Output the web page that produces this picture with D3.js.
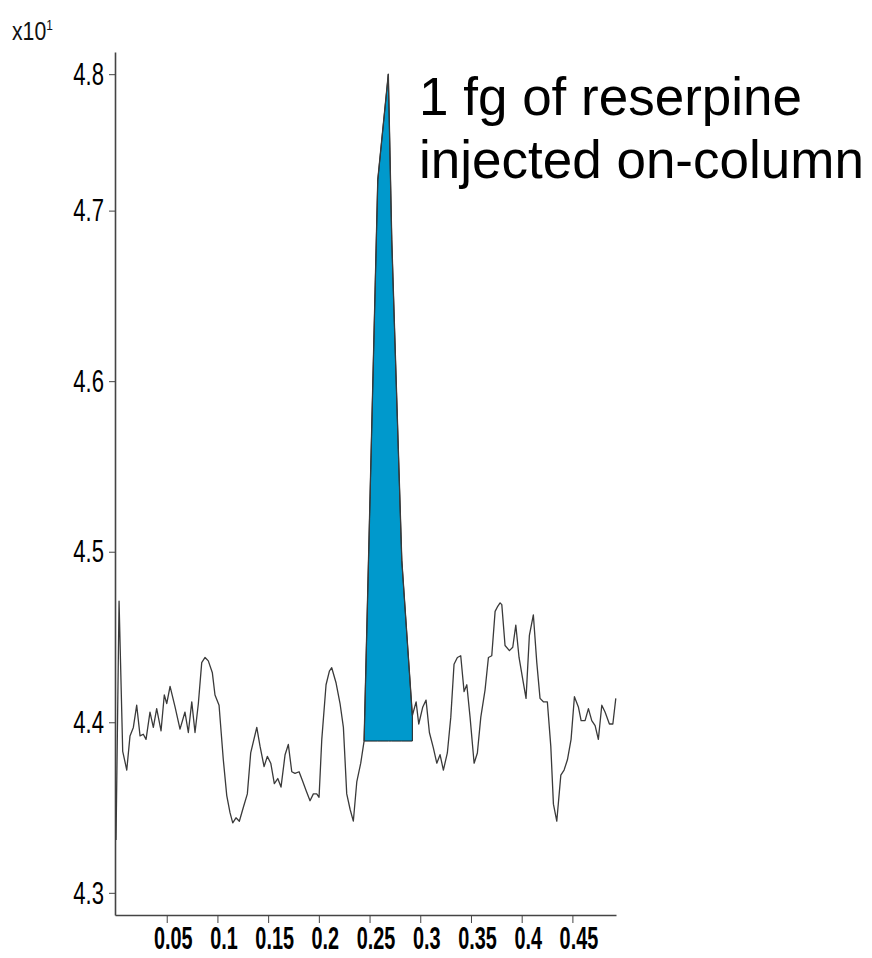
<!DOCTYPE html>
<html>
<head>
<meta charset="utf-8">
<script src="https://cdn.jsdelivr.net/npm/d3@7"></script>
<style>
  body { margin: 0; background: #fff; }
  svg { display: block; }
</style>
</head>
<body>
<div id="chart"></div>
<script>
const width = 872;
const height = 958;

// Retention time (min)
const times = [0.000,0.003,0.0066,0.0106,0.0138,0.0171,0.0204,0.0237,0.0269,0.0296,
  0.0335,0.0368,0.0401,0.0444,0.0476,0.0500,0.0533,0.0582,0.0631,0.0680,
  0.0713,0.0747,0.0779,0.0812,0.0845,0.0878,0.0910,0.0950,0.0976,0.1016,
  0.1058,0.1092,0.1124,0.1151,0.1183,0.1216,0.1255,0.1295,0.1328,0.1388,
  0.1420,0.1460,0.1492,0.1526,0.1561,0.1595,0.1627,0.1667,0.1699,0.1733,
  0.1765,0.1805,0.1837,0.1874,0.1913,0.1946,0.1979,0.2002,0.2029,0.2071,
  0.2104,0.2127,0.2170,0.2209,0.2242,0.2275,0.2308,0.2340,0.2374,0.2413,
  0.2446,0.2581,0.2685,0.2719,0.2818,0.2922,0.2959,0.2985,0.3025,0.3057,
  0.3090,0.3129,0.3163,0.3195,0.3228,0.3267,0.3301,0.3333,0.3366,0.3399,
  0.3432,0.3459,0.3491,0.3531,0.3563,0.3597,0.3639,0.3672,0.3705,0.3738,
  0.3764,0.3787,0.3804,0.3836,0.3879,0.3912,0.3942,0.3974,0.4011,0.4043,
  0.4076,0.4115,0.4149,0.4181,0.4214,0.4253,0.4287,0.4313,0.4346,0.4386,
  0.4418,0.4451,0.4487,0.4520,0.4559,0.4586,0.4625,0.4658,0.4691,0.4724,
  0.4756,0.4790,0.4822,0.4865,0.4899,0.4928];

// Signal intensity (x10^1)
const intensity = [4.331,4.471,4.383,4.372,4.392,4.397,4.410,4.392,4.393,4.390,
  4.406,4.397,4.408,4.395,4.416,4.411,4.421,4.409,4.396,4.406,
  4.394,4.412,4.394,4.411,4.435,4.438,4.436,4.429,4.416,4.410,
  4.378,4.357,4.347,4.341,4.344,4.342,4.350,4.358,4.382,4.397,
  4.386,4.374,4.380,4.376,4.364,4.367,4.362,4.381,4.387,4.371,
  4.370,4.371,4.366,4.360,4.354,4.358,4.358,4.356,4.390,4.422,
  4.430,4.432,4.423,4.411,4.397,4.358,4.349,4.342,4.365,4.376,
  4.389,4.718,4.780,4.683,4.495,4.404,4.412,4.399,4.409,4.413,
  4.394,4.385,4.376,4.381,4.372,4.382,4.403,4.434,4.438,4.439,
  4.418,4.422,4.403,4.376,4.382,4.403,4.419,4.438,4.439,4.465,
  4.468,4.470,4.469,4.445,4.442,4.444,4.457,4.438,4.425,4.414,
  4.451,4.463,4.435,4.414,4.412,4.412,4.386,4.352,4.342,4.369,
  4.372,4.378,4.390,4.415,4.409,4.401,4.401,4.408,4.401,4.398,
  4.390,4.410,4.406,4.399,4.399,4.414];

// Integrated peak window and its baseline
const peakWindow = [0.2446, 0.2922];
const peakBaseline = 4.389;

// Axis ticks
const xTickValues = [0.05, 0.1, 0.15, 0.2, 0.25, 0.3, 0.35, 0.4, 0.45];
const xTickLabels = ["0.05", "0.1", "0.15", "0.2", "0.25", "0.3", "0.35", "0.4", "0.45"];
const yTickValues = [4.3, 4.4, 4.5, 4.6, 4.7, 4.78];
const yTickLabels = ["4.3", "4.4", "4.5", "4.6", "4.7", "4.8"];

const annotationLines = ["1 fg of reserpine", "injected on-column"];

const data = d3.zip(times, intensity).map(([t, v]) => ({ t: t, v: v }));
const peakData = data.filter(d => d.t >= peakWindow[0] && d.t <= peakWindow[1]);

const svg = d3.select("#chart").append("svg")
    .attr("width", width)
    .attr("height", height);

// Scales
const x = d3.scaleLinear().domain([-0.001, 0.493]).range([115, 616]);
const y = d3.scaleLinear().domain([4.287, 4.793]).range([915, 52]);

// Condensed tick text
const yLabelScale = 0.69;
const xLabelScale = 0.64;

// Y axis
const yAxis = svg.append("g")
    .attr("transform", `translate(${x.range()[0]},0)`)
    .call(d3.axisLeft(y)
        .tickValues(yTickValues)
        .tickFormat((d, i) => yTickLabels[i])
        .tickSize(6)
        .tickSizeOuter(0));

yAxis.select(".domain").attr("stroke", "#444").attr("stroke-width", 1.6);
yAxis.selectAll(".tick line").attr("stroke", "#444");
yAxis.selectAll(".tick text")
    .attr("x", -11 / yLabelScale)
    .attr("transform", `scale(${yLabelScale},1)`)
    .attr("fill", "#000")
    .style("font-family", "Liberation Sans, Arial, sans-serif")
    .style("font-size", "32px");

// X axis
const xAxis = svg.append("g")
    .attr("transform", `translate(0,${y.range()[0]})`)
    .call(d3.axisBottom(x)
        .tickValues(xTickValues)
        .tickFormat((d, i) => xTickLabels[i])
        .tickSize(8)
        .tickSizeOuter(0));

xAxis.select(".domain").attr("stroke", "#444").attr("stroke-width", 1.6);
xAxis.selectAll(".tick line").attr("stroke", "#444");
xAxis.selectAll(".tick text")
    .attr("x", 6 / xLabelScale)
    .attr("y", 12)
    .attr("transform", `scale(${xLabelScale},1)`)
    .attr("fill", "#000")
    .style("font-family", "Liberation Sans, Arial, sans-serif")
    .style("font-weight", "bold")
    .style("font-size", "31px");

// Filled peak area
const area = d3.area()
    .x(d => x(d.t))
    .y0(y(peakBaseline))
    .y1(d => y(d.v));

svg.append("path")
    .datum(peakData)
    .attr("d", area)
    .attr("fill", "#0099cc")
    .attr("stroke", "#1a1a1a")
    .attr("stroke-width", 1);

// Chromatogram trace
const line = d3.line()
    .x(d => x(d.t))
    .y(d => y(d.v));

svg.append("path")
    .datum(data)
    .attr("d", line)
    .attr("fill", "none")
    .attr("stroke", "#3a3a3a")
    .attr("stroke-width", 1.3)
    .attr("stroke-linejoin", "round");

// Exponent label
const expLabel = svg.append("text")
    .attr("transform", "translate(12,40) scale(0.85,1)")
    .attr("fill", "#111")
    .style("font-family", "Liberation Sans, Arial, sans-serif")
    .style("font-size", "25px");
expLabel.append("tspan").text("x10");
expLabel.append("tspan")
    .attr("dy", -10)
    .style("font-size", "14px")
    .text("1");

// Annotation
svg.append("g")
    .selectAll("text")
    .data(annotationLines)
    .enter()
    .append("text")
    .attr("x", 419)
    .attr("y", (d, i) => 115 + i * 63)
    .attr("fill", "#000")
    .style("font-family", "Liberation Sans, Arial, sans-serif")
    .style("font-size", "53px")
    .text(d => d);
</script>
</body>
</html>
